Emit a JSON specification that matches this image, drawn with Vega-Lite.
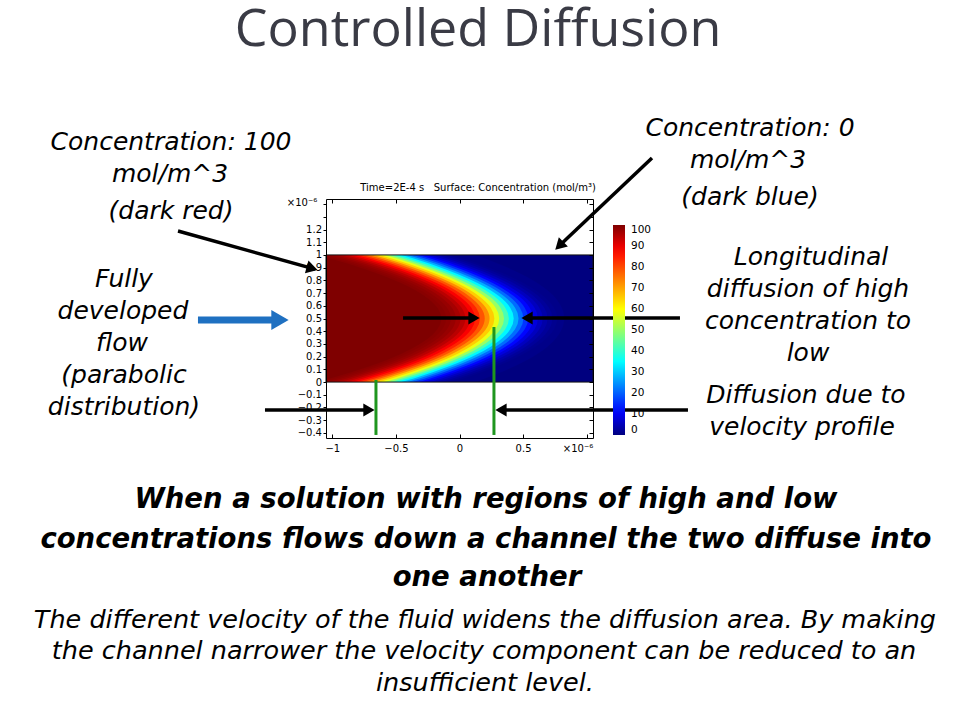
{
  "$schema": "https://vega.github.io/schema/vega-lite/v6.json",
  "width": 267,
  "height": 239,
  "autosize": {"type": "none"},
  "padding": {"left": 326, "top": 199, "right": 367, "bottom": 282},
  "background": "white",
  "config": {
    "view": {"stroke": null},
    "axis": {"grid": false, "labelFont": "DejaVu Sans", "labelFontSize": 10, "labelColor": "black", "tickColor": "black", "domainColor": "black", "domainWidth": 1, "tickWidth": 1}
  },
  "datasets": {
    "iso": [
      {"c":99.18,"y":-0.1,"x":-1.415},{"c":99.18,"y":0,"x":-1.018},{"c":99.18,"y":0.1,"x":-0.693},{"c":99.18,"y":0.2,"x":-0.441},{"c":99.18,"y":0.3,"x":-0.26},{"c":99.18,"y":0.4,"x":-0.152},{"c":99.18,"y":0.5,"x":-0.116},{"c":99.18,"y":0.6,"x":-0.152},{"c":99.18,"y":0.7,"x":-0.26},{"c":99.18,"y":0.8,"x":-0.441},{"c":99.18,"y":0.9,"x":-0.693},{"c":99.18,"y":1,"x":-1.018},{"c":99.18,"y":1.1,"x":-1.415},
      {"c":98.61,"y":-0.1,"x":-1.368},{"c":98.61,"y":0,"x":-0.974},{"c":98.61,"y":0.1,"x":-0.651},{"c":98.61,"y":0.2,"x":-0.401},{"c":98.61,"y":0.3,"x":-0.221},{"c":98.61,"y":0.4,"x":-0.114},{"c":98.61,"y":0.5,"x":-0.078},{"c":98.61,"y":0.6,"x":-0.114},{"c":98.61,"y":0.7,"x":-0.221},{"c":98.61,"y":0.8,"x":-0.401},{"c":98.61,"y":0.9,"x":-0.651},{"c":98.61,"y":1,"x":-0.974},{"c":98.61,"y":1.1,"x":-1.368},
      {"c":97.72,"y":-0.1,"x":-1.322},{"c":97.72,"y":0,"x":-0.93},{"c":97.72,"y":0.1,"x":-0.61},{"c":97.72,"y":0.2,"x":-0.36},{"c":97.72,"y":0.3,"x":-0.182},{"c":97.72,"y":0.4,"x":-0.076},{"c":97.72,"y":0.5,"x":-0.04},{"c":97.72,"y":0.6,"x":-0.076},{"c":97.72,"y":0.7,"x":-0.182},{"c":97.72,"y":0.8,"x":-0.36},{"c":97.72,"y":0.9,"x":-0.61},{"c":97.72,"y":1,"x":-0.93},{"c":97.72,"y":1.1,"x":-1.322},
      {"c":96.41,"y":-0.1,"x":-1.275},{"c":96.41,"y":0,"x":-0.886},{"c":96.41,"y":0.1,"x":-0.568},{"c":96.41,"y":0.2,"x":-0.32},{"c":96.41,"y":0.3,"x":-0.143},{"c":96.41,"y":0.4,"x":-0.037},{"c":96.41,"y":0.5,"x":-0.002},{"c":96.41,"y":0.6,"x":-0.037},{"c":96.41,"y":0.7,"x":-0.143},{"c":96.41,"y":0.8,"x":-0.32},{"c":96.41,"y":0.9,"x":-0.568},{"c":96.41,"y":1,"x":-0.886},{"c":96.41,"y":1.1,"x":-1.275},
      {"c":94.52,"y":-0.1,"x":-1.228},{"c":94.52,"y":0,"x":-0.842},{"c":94.52,"y":0.1,"x":-0.526},{"c":94.52,"y":0.2,"x":-0.28},{"c":94.52,"y":0.3,"x":-0.105},{"c":94.52,"y":0.4,"x":0.001},{"c":94.52,"y":0.5,"x":0.036},{"c":94.52,"y":0.6,"x":0.001},{"c":94.52,"y":0.7,"x":-0.105},{"c":94.52,"y":0.8,"x":-0.28},{"c":94.52,"y":0.9,"x":-0.526},{"c":94.52,"y":1,"x":-0.842},{"c":94.52,"y":1.1,"x":-1.228},
      {"c":91.92,"y":-0.1,"x":-1.182},{"c":91.92,"y":0,"x":-0.798},{"c":91.92,"y":0.1,"x":-0.484},{"c":91.92,"y":0.2,"x":-0.24},{"c":91.92,"y":0.3,"x":-0.066},{"c":91.92,"y":0.4,"x":0.039},{"c":91.92,"y":0.5,"x":0.074},{"c":91.92,"y":0.6,"x":0.039},{"c":91.92,"y":0.7,"x":-0.066},{"c":91.92,"y":0.8,"x":-0.24},{"c":91.92,"y":0.9,"x":-0.484},{"c":91.92,"y":1,"x":-0.798},{"c":91.92,"y":1.1,"x":-1.182},
      {"c":88.49,"y":-0.1,"x":-1.135},{"c":88.49,"y":0,"x":-0.754},{"c":88.49,"y":0.1,"x":-0.442},{"c":88.49,"y":0.2,"x":-0.2},{"c":88.49,"y":0.3,"x":-0.027},{"c":88.49,"y":0.4,"x":0.077},{"c":88.49,"y":0.5,"x":0.112},{"c":88.49,"y":0.6,"x":0.077},{"c":88.49,"y":0.7,"x":-0.027},{"c":88.49,"y":0.8,"x":-0.2},{"c":88.49,"y":0.9,"x":-0.442},{"c":88.49,"y":1,"x":-0.754},{"c":88.49,"y":1.1,"x":-1.135},
      {"c":84.13,"y":-0.1,"x":-1.088},{"c":84.13,"y":0,"x":-0.71},{"c":84.13,"y":0.1,"x":-0.4},{"c":84.13,"y":0.2,"x":-0.16},{"c":84.13,"y":0.3,"x":0.012},{"c":84.13,"y":0.4,"x":0.116},{"c":84.13,"y":0.5,"x":0.15},{"c":84.13,"y":0.6,"x":0.116},{"c":84.13,"y":0.7,"x":0.012},{"c":84.13,"y":0.8,"x":-0.16},{"c":84.13,"y":0.9,"x":-0.4},{"c":84.13,"y":1,"x":-0.71},{"c":84.13,"y":1.1,"x":-1.088},
      {"c":78.81,"y":-0.1,"x":-1.042},{"c":78.81,"y":0,"x":-0.666},{"c":78.81,"y":0.1,"x":-0.359},{"c":78.81,"y":0.2,"x":-0.119},{"c":78.81,"y":0.3,"x":0.051},{"c":78.81,"y":0.4,"x":0.154},{"c":78.81,"y":0.5,"x":0.188},{"c":78.81,"y":0.6,"x":0.154},{"c":78.81,"y":0.7,"x":0.051},{"c":78.81,"y":0.8,"x":-0.119},{"c":78.81,"y":0.9,"x":-0.359},{"c":78.81,"y":1,"x":-0.666},{"c":78.81,"y":1.1,"x":-1.042},
      {"c":72.57,"y":-0.1,"x":-0.995},{"c":72.57,"y":0,"x":-0.622},{"c":72.57,"y":0.1,"x":-0.317},{"c":72.57,"y":0.2,"x":-0.079},{"c":72.57,"y":0.3,"x":0.09},{"c":72.57,"y":0.4,"x":0.192},{"c":72.57,"y":0.5,"x":0.226},{"c":72.57,"y":0.6,"x":0.192},{"c":72.57,"y":0.7,"x":0.09},{"c":72.57,"y":0.8,"x":-0.079},{"c":72.57,"y":0.9,"x":-0.317},{"c":72.57,"y":1,"x":-0.622},{"c":72.57,"y":1.1,"x":-0.995},
      {"c":65.54,"y":-0.1,"x":-0.949},{"c":65.54,"y":0,"x":-0.578},{"c":65.54,"y":0.1,"x":-0.275},{"c":65.54,"y":0.2,"x":-0.039},{"c":65.54,"y":0.3,"x":0.129},{"c":65.54,"y":0.4,"x":0.23},{"c":65.54,"y":0.5,"x":0.264},{"c":65.54,"y":0.6,"x":0.23},{"c":65.54,"y":0.7,"x":0.129},{"c":65.54,"y":0.8,"x":-0.039},{"c":65.54,"y":0.9,"x":-0.275},{"c":65.54,"y":1,"x":-0.578},{"c":65.54,"y":1.1,"x":-0.949},
      {"c":57.93,"y":-0.1,"x":-0.902},{"c":57.93,"y":0,"x":-0.534},{"c":57.93,"y":0.1,"x":-0.233},{"c":57.93,"y":0.2,"x":0.001},{"c":57.93,"y":0.3,"x":0.168},{"c":57.93,"y":0.4,"x":0.269},{"c":57.93,"y":0.5,"x":0.302},{"c":57.93,"y":0.6,"x":0.269},{"c":57.93,"y":0.7,"x":0.168},{"c":57.93,"y":0.8,"x":0.001},{"c":57.93,"y":0.9,"x":-0.233},{"c":57.93,"y":1,"x":-0.534},{"c":57.93,"y":1.1,"x":-0.902},
      {"c":50,"y":-0.1,"x":-0.855},{"c":50,"y":0,"x":-0.49},{"c":50,"y":0.1,"x":-0.191},{"c":50,"y":0.2,"x":0.041},{"c":50,"y":0.3,"x":0.207},{"c":50,"y":0.4,"x":0.307},{"c":50,"y":0.5,"x":0.34},{"c":50,"y":0.6,"x":0.307},{"c":50,"y":0.7,"x":0.207},{"c":50,"y":0.8,"x":0.041},{"c":50,"y":0.9,"x":-0.191},{"c":50,"y":1,"x":-0.49},{"c":50,"y":1.1,"x":-0.855},
      {"c":42.07,"y":-0.1,"x":-0.809},{"c":42.07,"y":0,"x":-0.446},{"c":42.07,"y":0.1,"x":-0.149},{"c":42.07,"y":0.2,"x":0.081},{"c":42.07,"y":0.3,"x":0.246},{"c":42.07,"y":0.4,"x":0.345},{"c":42.07,"y":0.5,"x":0.378},{"c":42.07,"y":0.6,"x":0.345},{"c":42.07,"y":0.7,"x":0.246},{"c":42.07,"y":0.8,"x":0.081},{"c":42.07,"y":0.9,"x":-0.149},{"c":42.07,"y":1,"x":-0.446},{"c":42.07,"y":1.1,"x":-0.809},
      {"c":34.46,"y":-0.1,"x":-0.762},{"c":34.46,"y":0,"x":-0.402},{"c":34.46,"y":0.1,"x":-0.108},{"c":34.46,"y":0.2,"x":0.122},{"c":34.46,"y":0.3,"x":0.285},{"c":34.46,"y":0.4,"x":0.383},{"c":34.46,"y":0.5,"x":0.416},{"c":34.46,"y":0.6,"x":0.383},{"c":34.46,"y":0.7,"x":0.285},{"c":34.46,"y":0.8,"x":0.122},{"c":34.46,"y":0.9,"x":-0.108},{"c":34.46,"y":1,"x":-0.402},{"c":34.46,"y":1.1,"x":-0.762},
      {"c":27.43,"y":-0.1,"x":-0.715},{"c":27.43,"y":0,"x":-0.358},{"c":27.43,"y":0.1,"x":-0.066},{"c":27.43,"y":0.2,"x":0.162},{"c":27.43,"y":0.3,"x":0.324},{"c":27.43,"y":0.4,"x":0.422},{"c":27.43,"y":0.5,"x":0.454},{"c":27.43,"y":0.6,"x":0.422},{"c":27.43,"y":0.7,"x":0.324},{"c":27.43,"y":0.8,"x":0.162},{"c":27.43,"y":0.9,"x":-0.066},{"c":27.43,"y":1,"x":-0.358},{"c":27.43,"y":1.1,"x":-0.715},
      {"c":21.19,"y":-0.1,"x":-0.669},{"c":21.19,"y":0,"x":-0.314},{"c":21.19,"y":0.1,"x":-0.024},{"c":21.19,"y":0.2,"x":0.202},{"c":21.19,"y":0.3,"x":0.363},{"c":21.19,"y":0.4,"x":0.46},{"c":21.19,"y":0.5,"x":0.492},{"c":21.19,"y":0.6,"x":0.46},{"c":21.19,"y":0.7,"x":0.363},{"c":21.19,"y":0.8,"x":0.202},{"c":21.19,"y":0.9,"x":-0.024},{"c":21.19,"y":1,"x":-0.314},{"c":21.19,"y":1.1,"x":-0.669},
      {"c":15.87,"y":-0.1,"x":-0.622},{"c":15.87,"y":0,"x":-0.27},{"c":15.87,"y":0.1,"x":0.018},{"c":15.87,"y":0.2,"x":0.242},{"c":15.87,"y":0.3,"x":0.402},{"c":15.87,"y":0.4,"x":0.498},{"c":15.87,"y":0.5,"x":0.53},{"c":15.87,"y":0.6,"x":0.498},{"c":15.87,"y":0.7,"x":0.402},{"c":15.87,"y":0.8,"x":0.242},{"c":15.87,"y":0.9,"x":0.018},{"c":15.87,"y":1,"x":-0.27},{"c":15.87,"y":1.1,"x":-0.622},
      {"c":11.51,"y":-0.1,"x":-0.575},{"c":11.51,"y":0,"x":-0.226},{"c":11.51,"y":0.1,"x":0.06},{"c":11.51,"y":0.2,"x":0.282},{"c":11.51,"y":0.3,"x":0.441},{"c":11.51,"y":0.4,"x":0.536},{"c":11.51,"y":0.5,"x":0.568},{"c":11.51,"y":0.6,"x":0.536},{"c":11.51,"y":0.7,"x":0.441},{"c":11.51,"y":0.8,"x":0.282},{"c":11.51,"y":0.9,"x":0.06},{"c":11.51,"y":1,"x":-0.226},{"c":11.51,"y":1.1,"x":-0.575},
      {"c":8.08,"y":-0.1,"x":-0.529},{"c":8.08,"y":0,"x":-0.182},{"c":8.08,"y":0.1,"x":0.102},{"c":8.08,"y":0.2,"x":0.322},{"c":8.08,"y":0.3,"x":0.48},{"c":8.08,"y":0.4,"x":0.575},{"c":8.08,"y":0.5,"x":0.606},{"c":8.08,"y":0.6,"x":0.575},{"c":8.08,"y":0.7,"x":0.48},{"c":8.08,"y":0.8,"x":0.322},{"c":8.08,"y":0.9,"x":0.102},{"c":8.08,"y":1,"x":-0.182},{"c":8.08,"y":1.1,"x":-0.529},
      {"c":5.48,"y":-0.1,"x":-0.482},{"c":5.48,"y":0,"x":-0.138},{"c":5.48,"y":0.1,"x":0.144},{"c":5.48,"y":0.2,"x":0.363},{"c":5.48,"y":0.3,"x":0.519},{"c":5.48,"y":0.4,"x":0.613},{"c":5.48,"y":0.5,"x":0.644},{"c":5.48,"y":0.6,"x":0.613},{"c":5.48,"y":0.7,"x":0.519},{"c":5.48,"y":0.8,"x":0.363},{"c":5.48,"y":0.9,"x":0.144},{"c":5.48,"y":1,"x":-0.138},{"c":5.48,"y":1.1,"x":-0.482},
      {"c":3.59,"y":-0.1,"x":-0.435},{"c":3.59,"y":0,"x":-0.094},{"c":3.59,"y":0.1,"x":0.185},{"c":3.59,"y":0.2,"x":0.403},{"c":3.59,"y":0.3,"x":0.558},{"c":3.59,"y":0.4,"x":0.651},{"c":3.59,"y":0.5,"x":0.682},{"c":3.59,"y":0.6,"x":0.651},{"c":3.59,"y":0.7,"x":0.558},{"c":3.59,"y":0.8,"x":0.403},{"c":3.59,"y":0.9,"x":0.185},{"c":3.59,"y":1,"x":-0.094},{"c":3.59,"y":1.1,"x":-0.435},
      {"c":2.28,"y":-0.1,"x":-0.389},{"c":2.28,"y":0,"x":-0.05},{"c":2.28,"y":0.1,"x":0.227},{"c":2.28,"y":0.2,"x":0.443},{"c":2.28,"y":0.3,"x":0.597},{"c":2.28,"y":0.4,"x":0.689},{"c":2.28,"y":0.5,"x":0.72},{"c":2.28,"y":0.6,"x":0.689},{"c":2.28,"y":0.7,"x":0.597},{"c":2.28,"y":0.8,"x":0.443},{"c":2.28,"y":0.9,"x":0.227},{"c":2.28,"y":1,"x":-0.05},{"c":2.28,"y":1.1,"x":-0.389},
      {"c":1.39,"y":-0.1,"x":-0.342},{"c":1.39,"y":0,"x":-0.006},{"c":1.39,"y":0.1,"x":0.269},{"c":1.39,"y":0.2,"x":0.483},{"c":1.39,"y":0.3,"x":0.636},{"c":1.39,"y":0.4,"x":0.727},{"c":1.39,"y":0.5,"x":0.758},{"c":1.39,"y":0.6,"x":0.727},{"c":1.39,"y":0.7,"x":0.636},{"c":1.39,"y":0.8,"x":0.483},{"c":1.39,"y":0.9,"x":0.269},{"c":1.39,"y":1,"x":-0.006},{"c":1.39,"y":1.1,"x":-0.342},
      {"c":0.82,"y":-0.1,"x":-0.296},{"c":0.82,"y":0,"x":0.038},{"c":0.82,"y":0.1,"x":0.311},{"c":0.82,"y":0.2,"x":0.523},{"c":0.82,"y":0.3,"x":0.675},{"c":0.82,"y":0.4,"x":0.766},{"c":0.82,"y":0.5,"x":0.796},{"c":0.82,"y":0.6,"x":0.766},{"c":0.82,"y":0.7,"x":0.675},{"c":0.82,"y":0.8,"x":0.523},{"c":0.82,"y":0.9,"x":0.311},{"c":0.82,"y":1,"x":0.038},{"c":0.82,"y":1.1,"x":-0.296}
    ]
  },
  "encoding": {
    "x": {"field": "x", "type": "quantitative", "scale": {"domain": [-1.05, 1.05], "nice": false, "zero": false}, "axis": null},
    "y": {"field": "y", "type": "quantitative", "scale": {"domain": [-0.44, 1.44], "nice": false, "zero": false}, "axis": null}
  },
  "resolve": {"axis": {"x": "independent", "y": "independent"}},
  "layer": [
    {
      "data": {"values": [{"x": -1.05, "x2": 1.05, "y": 0, "y2": 1, "conc": 0}]},
      "mark": {"type": "rect"},
      "encoding": {
        "x": {"field": "x", "type": "quantitative", "scale": {"domain": [-1.05, 1.05], "nice": false, "zero": false},
          "axis": {"orient": "bottom", "title": null, "values": [-1, -0.5, 0, 0.5, 1], "format": "~g", "labelExpr": "datum.value > 0.9 ? '' : datum.label", "tickSize": -4, "labelPadding": 9, "zindex": 2}},
        "x2": {"field": "x2"},
        "y": {"field": "y", "type": "quantitative", "scale": {"domain": [-0.44, 1.44], "nice": false, "zero": false},
          "axis": {"orient": "left", "title": null, "values": [-0.4, -0.3, -0.2, -0.1, 0, 0.1, 0.2, 0.3, 0.4, 0.5, 0.6, 0.7, 0.8, 0.9, 1, 1.1, 1.2, 1.3, 1.4], "format": "~g", "labelExpr": "datum.value > 1.25 ? '' : datum.label", "tickSize": 3, "labelPadding": 1.5, "zindex": 2}},
        "y2": {"field": "y2"},
        "fill": {"field": "conc", "type": "quantitative",
          "scale": {"domain": [0, 11, 35, 60, 88, 100], "range": ["#00007f", "#0000ff", "#00ffff", "#ffff00", "#ff0000", "#7f0000"], "interpolate": "rgb"},
          "legend": {"type": "gradient", "title": null, "orient": "none", "legendX": 287, "legendY": 26, "direction": "vertical", "gradientLength": 210, "gradientThickness": 12, "values": [0, 10, 20, 30, 40, 50, 60, 70, 80, 90, 100], "labelFont": "DejaVu Sans", "labelFontSize": 10.5, "labelOffset": 6, "labelColor": "black", "gradientStrokeWidth": 0, "padding": 0}}
      }
    },
    {
      "data": {"values": [
        {"y": 0, "x": -1.05, "x2": -0.49}, {"y": 0.1, "x": -1.05, "x2": -0.191}, {"y": 0.2, "x": -1.05, "x2": 0.041},
        {"y": 0.3, "x": -1.05, "x2": 0.207}, {"y": 0.4, "x": -1.05, "x2": 0.307}, {"y": 0.5, "x": -1.05, "x2": 0.34},
        {"y": 0.6, "x": -1.05, "x2": 0.307}, {"y": 0.7, "x": -1.05, "x2": 0.207}, {"y": 0.8, "x": -1.05, "x2": 0.041},
        {"y": 0.9, "x": -1.05, "x2": -0.191}, {"y": 1, "x": -1.05, "x2": -0.49}
      ]},
      "mark": {"type": "area", "orient": "horizontal", "interpolate": "natural", "color": "#7f0000"},
      "encoding": {
        "x": {"field": "x", "type": "quantitative", "scale": {"domain": [-1.05, 1.05], "nice": false, "zero": false}, "axis": null, "stack": null},
        "x2": {"field": "x2"}
      }
    },
    {
      "data": {"name": "iso"},
      "mark": {"type": "line", "strokeWidth": 7, "interpolate": "natural", "clip": true},
      "encoding": {
        "stroke": {"field": "c", "type": "quantitative",
          "scale": {"domain": [0, 11, 35, 60, 88, 100.001], "range": ["#00007f", "#0000ff", "#00ffff", "#ffff00", "#ff0000", "#7f0000"], "interpolate": "rgb"}, "legend": null},
        "detail": {"field": "c", "type": "quantitative"},
        "order": {"field": "y", "type": "quantitative"}
      }
    },
    {
      "data": {"values": [{"x": -1.05, "x2": 1.05, "y": 1, "y2": 1.44}, {"x": -1.05, "x2": 1.05, "y": -0.44, "y2": 0}]},
      "mark": {"type": "rect", "color": "white"},
      "encoding": {
        "x": {"field": "x", "type": "quantitative", "scale": {"domain": [-1.05, 1.05], "nice": false, "zero": false},
          "axis": {"orient": "top", "title": null, "values": [-1, -0.5, 0, 0.5, 1], "labels": false, "tickSize": -4, "zindex": 2}},
        "x2": {"field": "x2"},
        "y": {"field": "y", "type": "quantitative", "scale": {"domain": [-0.44, 1.44], "nice": false, "zero": false},
          "axis": {"orient": "right", "title": null, "values": [-0.4, -0.3, -0.2, -0.1, 0, 0.1, 0.2, 0.3, 0.4, 0.5, 0.6, 0.7, 0.8, 0.9, 1, 1.1, 1.2, 1.3, 1.4], "labels": false, "tickSize": -4, "zindex": 2}},
        "y2": {"field": "y2"}
      }
    },
    {
      "data": {"values": [{"x": -1.05, "x2": 1.05, "y": 0, "y2": 1}]},
      "mark": {"type": "rect", "fillOpacity": 0, "stroke": "#111111", "strokeWidth": 1},
      "encoding": {"x2": {"field": "x2"}, "y2": {"field": "y2"}}
    },
    {
      "data": {"values": [
        {"x": -2.214, "y": 1.188, "x2": -1.159, "y2": 0.894},
        {"x": 1.514, "y": 1.763, "x2": 0.785, "y2": 1.072},
        {"x": -0.444, "y": 0.504, "x2": 0.114, "y2": 0.504},
        {"x": 1.734, "y": 0.504, "x2": 0.531, "y2": 0.504},
        {"x": -1.53, "y": -0.22, "x2": -0.712, "y2": -0.22},
        {"x": 1.797, "y": -0.22, "x2": 0.326, "y2": -0.22}
      ]},
      "mark": {"type": "rule", "strokeWidth": 3.5, "color": "black"},
      "encoding": {"x2": {"field": "x2"}, "y2": {"field": "y2"}}
    },
    {
      "data": {"values": [
        {"x": -1.159, "y": 0.894, "deg": 15.6},
        {"x": 0.785, "y": 1.072, "deg": 135.9},
        {"x": 0.114, "y": 0.504, "deg": 0},
        {"x": 0.531, "y": 0.504, "deg": 180},
        {"x": -0.712, "y": -0.22, "deg": 0},
        {"x": 0.326, "y": -0.22, "deg": 180}
      ]},
      "mark": {"type": "point", "shape": "triangle-right", "filled": true, "size": 170, "color": "black", "opacity": 1},
      "encoding": {"angle": {"field": "deg", "type": "quantitative", "scale": null}}
    },
    {
      "data": {"values": [{"x": -2.057, "y": 0.488, "x2": -1.412, "y2": 0.488}]},
      "mark": {"type": "rule", "strokeWidth": 7, "color": "#1f70c1"},
      "encoding": {"x2": {"field": "x2"}, "y2": {"field": "y2"}}
    },
    {
      "data": {"values": [{"x": -1.412, "y": 0.488}]},
      "mark": {"type": "point", "shape": "triangle-right", "filled": true, "size": 400, "color": "#1f70c1", "opacity": 1}
    },
    {
      "data": {"values": [{"x": -0.657, "y": 0.016, "x2": -0.657, "y2": -0.416}, {"x": 0.271, "y": 0.433, "x2": 0.271, "y2": -0.416}]},
      "mark": {"type": "rule", "strokeWidth": 3, "color": "#1f961f"},
      "encoding": {"x2": {"field": "x2"}, "y2": {"field": "y2"}}
    },
    {
      "data": {"values": [{"t": "Controlled Diffusion", "x": 0.146, "y": 2.645}]},
      "mark": {"type": "text", "font": "Open Sans", "fontSize": 52, "color": "#3a3b45", "align": "center", "baseline": "alphabetic"},
      "encoding": {"text": {"field": "t"}}
    },
    {
      "data": {"values": [
        {"t": "Time=2E-4 s\u00a0\u00a0 Surface: Concentration (mol/m³)", "x": 0.146, "y": 1.527},
        {"t": "×10⁻⁶", "x": -1.239, "y": 1.409},
        {"t": "×10⁻⁶", "x": 0.932, "y": -0.527}
      ]},
      "mark": {"type": "text", "font": "DejaVu Sans", "fontSize": 10, "color": "black", "align": "center", "baseline": "middle"},
      "encoding": {"text": {"field": "t"}}
    },
    {
      "data": {"values": [
        {"t": "Concentration: 100", "x": -2.269, "y": 1.888},
        {"t": "mol/m^3", "x": -2.277, "y": 1.637},
        {"t": "(dark red)", "x": -2.269, "y": 1.346},
        {"t": "Concentration: 0", "x": 2.285, "y": 1.999},
        {"t": "mol/m^3", "x": 2.269, "y": 1.747},
        {"t": "(dark blue)", "x": 2.285, "y": 1.456},
        {"t": "Fully", "x": -2.639, "y": 0.811},
        {"t": "developed", "x": -2.647, "y": 0.559},
        {"t": "flow", "x": -2.655, "y": 0.307},
        {"t": "(parabolic", "x": -2.639, "y": 0.056},
        {"t": "distribution)", "x": -2.639, "y": -0.196},
        {"t": "Longitudinal", "x": 2.765, "y": 0.984},
        {"t": "diffusion of high", "x": 2.741, "y": 0.732},
        {"t": "concentration to", "x": 2.741, "y": 0.48},
        {"t": "low", "x": 2.741, "y": 0.229},
        {"t": "Diffusion due to", "x": 2.725, "y": -0.102},
        {"t": "velocity profile", "x": 2.694, "y": -0.353}
      ]},
      "mark": {"type": "text", "font": "DejaVu Sans", "fontStyle": "italic", "fontSize": 25, "color": "black", "align": "center", "baseline": "middle"},
      "encoding": {"text": {"field": "t"}}
    },
    {
      "data": {"values": [
        {"t": "When a solution with regions of high and low", "x": 0.208, "y": -0.928},
        {"t": "concentrations flows down a channel the two diffuse into", "x": 0.208, "y": -1.242},
        {"t": "one another", "x": 0.216, "y": -1.541}
      ]},
      "mark": {"type": "text", "font": "DejaVu Sans", "fontStyle": "italic", "fontWeight": "bold", "fontSize": 27.5, "color": "black", "align": "center", "baseline": "middle"},
      "encoding": {"text": {"field": "t"}}
    },
    {
      "data": {"values": [
        {"t": "The different velocity of the fluid widens the diffusion area. By making", "x": 0.2, "y": -1.872},
        {"t": "the channel narrower the velocity component can be reduced to an", "x": 0.193, "y": -2.115},
        {"t": "insufficient level.", "x": 0.2, "y": -2.367}
      ]},
      "mark": {"type": "text", "font": "DejaVu Sans", "fontStyle": "italic", "fontSize": 25.5, "color": "black", "align": "center", "baseline": "middle"},
      "encoding": {"text": {"field": "t"}}
    }
  ]
}
